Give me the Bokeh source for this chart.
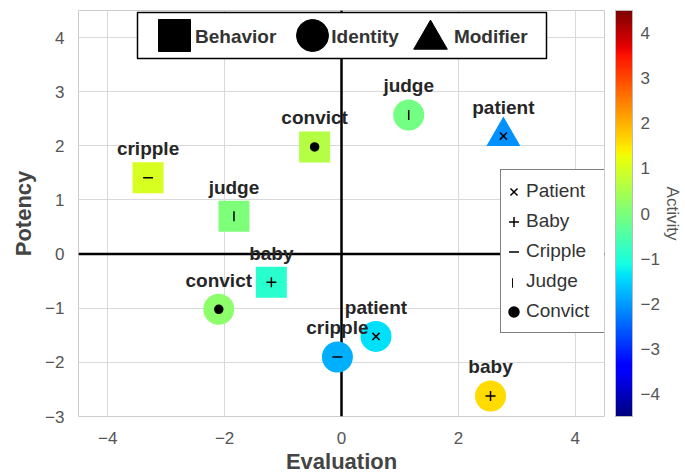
import numpy as np
from bokeh.plotting import figure
from bokeh.models import (ColumnDataSource, LinearColorMapper, ColorBar, FixedTicker, Span,
                          Legend, LegendItem, Range1d, BoxAnnotation, LinearAxis)
from bokeh.core.properties import value
from bokeh.embed import file_html
from bokeh.resources import INLINE

# ---------------- data ----------------
words = ["cripple", "judge", "convict", "baby",
         "judge", "convict", "patient", "cripple", "baby",
         "patient"]
kinds = ["Behavior", "Behavior", "Behavior", "Behavior",
         "Identity", "Identity", "Identity", "Identity", "Identity",
         "Modifier"]
evaluation = [-3.31, -1.84, -0.46, -1.20, 1.15, -2.10, 0.59, -0.07, 2.55, 2.77]
potency = [1.41, 0.70, 1.98, -0.52, 2.57, -1.02, -1.52, -1.90, -2.62, 2.18]
activity = [1.0, 0.0, 0.6, -0.9, -0.1, 0.2, -1.4, -1.8, 1.6, -2.1]

kind_labels = ["Behavior", "Identity", "Modifier"]
word_labels = ["Patient", "Baby", "Cripple", "Judge", "Convict"]
x_ticks = [-4, -2, 0, 2, 4]
y_ticks = [-3, -2, -1, 0, 1, 2, 3, 4]
cbar_ticks = [-4, -3, -2, -1, 0, 1, 2, 3, 4]

FONT = "Liberation Sans"


def minus(v):
    return ("\u2212%d" % -v) if v < 0 else "%d" % v


def jet_palette(n=256):
    segs = {
        "r": [(0, 0), (0.35, 0), (0.66, 1), (0.89, 1), (1, 0.5)],
        "g": [(0, 0), (0.125, 0), (0.375, 1), (0.64, 1), (0.91, 0), (1, 0)],
        "b": [(0, 0.5), (0.11, 1), (0.34, 1), (0.65, 0), (1, 0)],
    }
    t = np.linspace(0, 1, n)
    ch = [np.interp(t, [s[0] for s in segs[c]], [s[1] for s in segs[c]]) for c in "rgb"]
    return ["#%02x%02x%02x" % (int(round(r * 255)), int(round(g * 255)), int(round(b * 255)))
            for r, g, b in zip(*ch)]


mapper = LinearColorMapper(palette=jet_palette(), low=-4.5, high=4.5)

shape_of = {"Behavior": "square", "Identity": "circle", "Modifier": "triangle"}
size_of = {"Behavior": 31, "Identity": 31, "Modifier": 34}

src = ColumnDataSource(dict(
    x=evaluation, y=potency, a=activity, word=words, kind=kinds,
    marker=[shape_of[k] for k in kinds], size=[size_of[k] for k in kinds],
))

FW, FH = 526, 406
p = figure(frame_width=FW, frame_height=FH, min_border_left=78, min_border_right=80,
           min_border_top=10, min_border_bottom=58,
           x_range=Range1d(-4.5, 4.5), y_range=Range1d(-3, 4.5),
           output_backend="svg", toolbar_location=None,
           background_fill_color="white", border_fill_color="white")

p.outline_line_color = "#cccccc"
p.outline_line_width = 1
for ax, ticks in ((p.xaxis, x_ticks), (p.yaxis, y_ticks)):
    ax.ticker = FixedTicker(ticks=ticks)
    ax.major_label_overrides = {t: minus(t) for t in ticks}
    ax.axis_line_color = None
    ax.major_tick_line_color = None
    ax.minor_tick_line_color = None
    ax.major_label_text_font = FONT
    ax.major_label_text_font_size = "17px"
    ax.major_label_text_color = "#555555"
    ax.axis_label_text_font = FONT
    ax.axis_label_text_font_size = "22px"
    ax.axis_label_text_font_style = "bold"
    ax.axis_label_text_color = "#444444"
p.xaxis.axis_label = "Evaluation"
p.yaxis.axis_label = "Potency"
p.xaxis.major_label_standoff = 9
p.xaxis.axis_label_standoff = 2
p.yaxis.major_label_standoff = 8
p.yaxis.axis_label_standoff = 6
p.xgrid.ticker = FixedTicker(ticks=x_ticks)
p.ygrid.ticker = FixedTicker(ticks=y_ticks)
p.grid.grid_line_color = "#d9d9d9"
p.grid.grid_line_width = 1

# origin lines
p.add_layout(Span(location=0, dimension="height", line_color="black", line_width=2.5, level="underlay"))
p.add_layout(Span(location=0, dimension="width", line_color="black", line_width=2.5, level="underlay"))

# main coloured markers
p.scatter("x", "y", source=src, marker="marker", size="size",
          fill_color={"field": "a", "transform": mapper}, line_color=None)

# inner markers by word
inner_style = {
    "patient": dict(marker="x", size=10, angle=0.0),
    "baby": dict(marker="cross", size=10, angle=0.0),
    "cripple": dict(marker="dash", size=10, angle=0.0),
    "judge": dict(marker="dash", size=10, angle=np.pi / 2),
    "convict": dict(marker="circle", size=8, angle=0.0),
}
inner_r = {}
for w, st in inner_style.items():
    idx = [i for i, ww in enumerate(words) if ww == w]
    s = ColumnDataSource(dict(x=[evaluation[i] for i in idx], y=[potency[i] for i in idx]))
    inner_r[w] = p.scatter("x", "y", source=s, marker=st["marker"], size=st["size"],
                           angle=st["angle"], line_color="black", fill_color="black",
                           line_width=1.5)

# word labels
p.text("x", "y", text="word", source=src, text_align="center", text_baseline="alphabetic",
       y_offset=-29, text_font=value(FONT), text_font_style="bold", text_font_size="19px",
       text_color="#262626")


# legend proxies (one NaN point each: drawn only inside the legends)
def nan_src():
    return ColumnDataSource(dict(x=[np.nan], y=[np.nan]))


kind_r = [p.scatter("x", "y", source=nan_src(), marker=shape_of[k],
                    size=10, fill_color="black", line_color="black") for k in kind_labels]
judge_blank = p.scatter("x", "y", source=nan_src(), marker="dash", size=1,
                        line_alpha=0, fill_alpha=0)
judge_bar = p.quad(left="x", right="x", top="y", bottom="y", source=nan_src(),
                   fill_color="black", line_color="black", line_width=1)

# ---- top legend: frame + labels + big symbols ----
p.add_layout(BoxAnnotation(left=59, right=468, top=FH - 2, bottom=FH - 48,
                           left_units="screen", right_units="screen",
                           top_units="screen", bottom_units="screen",
                           fill_color="white", fill_alpha=1.0,
                           line_color="black", line_width=1.5, line_alpha=1.0))

common = dict(margin=0, padding=0, border_line_color=None, background_fill_alpha=0.0,
              label_text_font=FONT, label_text_font_size="19px",
              label_text_font_style="bold", label_text_color="#333333")

top_labels = Legend(
    items=[LegendItem(label=k, renderers=[r]) for k, r in zip(kind_labels, kind_r)],
    orientation="horizontal", location=(117, FH - 47),
    glyph_width=0, glyph_height=40, label_height=40, label_width=0,
    label_standoff=0, spacing=55, **common)
p.add_layout(top_labels)

sym_pos = [(56, FH - 65, 80), (194, FH - 65, 80), (310, FH - 71, 84)]
for r, (lx, ly, g) in zip(kind_r, sym_pos):
    p.add_layout(Legend(items=[LegendItem(label=" ", renderers=[r])],
                        location=(lx, ly), glyph_width=g, glyph_height=g,
                        label_height=g, label_width=0, label_standoff=0, **common))

# ---- right legend ----
word_r = [inner_r["patient"], inner_r["baby"], inner_r["cripple"], judge_blank, inner_r["convict"]]
side_legend = Legend(
    items=[LegendItem(label=w, renderers=[r]) for w, r in zip(word_labels, word_r)],
    orientation="vertical", location=(422, FH - 333 + 10),
    glyph_width=25, glyph_height=25, label_height=30, spacing=0, label_standoff=0,
    padding=dict(left=0, right=18, top=6, bottom=6), margin=0,
    label_text_font=FONT, label_text_font_size="19px", label_text_color="#333333",
    border_line_color="black", border_line_width=1.5, background_fill_alpha=1.0,
)
p.add_layout(side_legend)
# vertical bar symbol for the Judge row
p.add_layout(Legend(items=[LegendItem(label=" ", renderers=[judge_bar])],
                    location=(434, 128), glyph_width=1, glyph_height=11,
                    label_height=11, label_width=0, label_standoff=0, margin=0, padding=0,
                    border_line_color=None, background_fill_alpha=0.0,
                    label_text_font_size="1px"))

# ---- colour bar ----
cb = ColorBar(color_mapper=mapper, location=(FW + 11, 0), width=17, height=FH,
              padding=0, margin=0, ticker=FixedTicker(ticks=cbar_ticks),
              major_label_overrides={t: minus(t) for t in cbar_ticks},
              major_tick_line_color=None, minor_tick_line_color=None,
              major_label_text_font=FONT, major_label_text_font_size="17px",
              major_label_text_color="#555555", label_standoff=8,
              bar_line_color="#bbbbbb", border_line_color=None, background_fill_color=None)
p.add_layout(cb)

# colour-bar title, carried by a tick-less axis on the right
act_axis = LinearAxis(ticker=FixedTicker(ticks=[]), axis_label="Activity",
                      axis_line_color=None, major_tick_line_color=None,
                      minor_tick_line_color=None, major_label_standoff=0,
                      axis_label_standoff=58, axis_label_text_font=FONT,
                      axis_label_text_font_size="17px", axis_label_text_font_style="normal",
                      axis_label_text_color="#555555")
p.add_layout(act_axis, "right")

open("out.html", "w").write(file_html(p, INLINE))
